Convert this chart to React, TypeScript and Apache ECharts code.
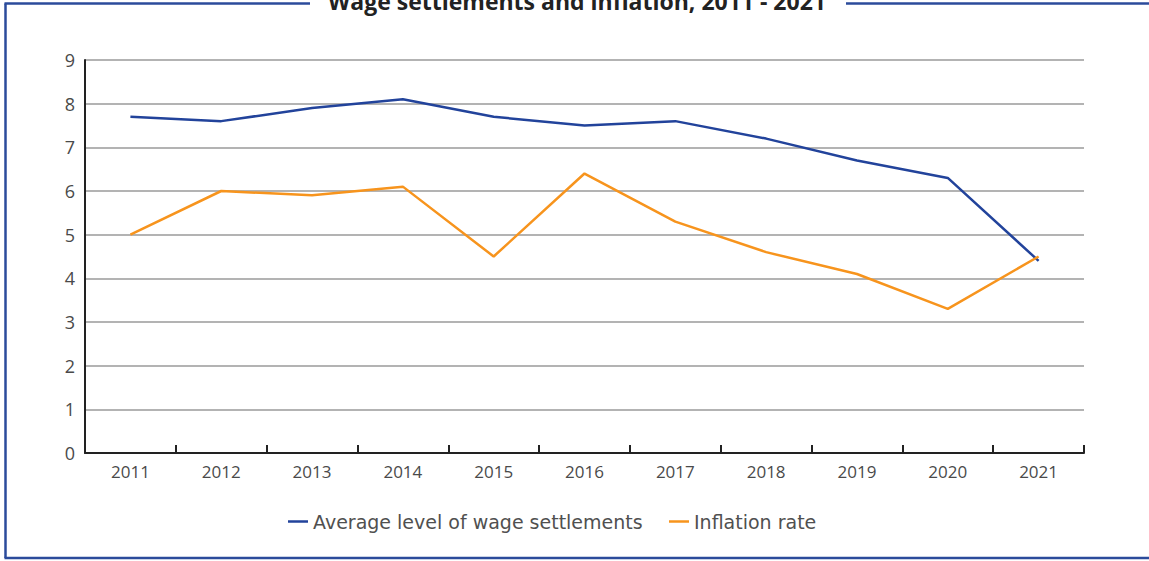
import React, { useEffect, useRef } from "react";
import * as echarts from "echarts";

const years = ["2011", "2012", "2013", "2014", "2015", "2016", "2017", "2018", "2019", "2020", "2021"];
const wageSettlements = [7.7, 7.6, 7.9, 8.1, 7.7, 7.5, 7.6, 7.2, 6.7, 6.3, 4.4];
const inflationRate = [5.0, 6.0, 5.9, 6.1, 4.5, 6.4, 5.3, 4.6, 4.1, 3.3, 4.5];
const seriesNames = ["Average level of wage settlements", "Inflation rate"];
const titleText = "Wage settlements and inflation, 2011 - 2021";

const BLUE = "#22439b";
const ORANGE = "#f7941d";
const FRAME = "#2b4b9b";
const AXIS_FONT = "'Open Sans', 'Noto Sans', sans-serif";
const LEGEND_FONT = "'DejaVu Sans', 'Noto Sans', sans-serif";
const TITLE_FONT = "'Open Sans', 'Noto Sans', sans-serif";

export default function App() {
  const ref = useRef<HTMLDivElement>(null);
  useEffect(() => {
    if (!ref.current) return;
    const chart = echarts.init(ref.current, undefined, { renderer: "svg" });
    chart.setOption({
      animation: false,
      backgroundColor: "#ffffff",
      grid: { left: 85, right: 65, top: 60, bottom: 108, containLabel: false },
      xAxis: {
        type: "category",
        data: years,
        boundaryGap: true,
        axisLine: { lineStyle: { color: "#222", width: 2 } },
        axisTick: { show: true, inside: true, length: 8, lineStyle: { color: "#222", width: 2 } },
        axisLabel: { color: "#4a4a4a", fontSize: 17, fontFamily: AXIS_FONT, margin: 10 },
        splitLine: { show: false },
      },
      yAxis: {
        type: "value",
        min: 0,
        max: 9,
        interval: 1,
        axisLine: { show: true, lineStyle: { color: "#222", width: 2 } },
        axisTick: { show: false },
        axisLabel: { color: "#4a4a4a", fontSize: 18, fontFamily: AXIS_FONT, margin: 10 },
        splitLine: { show: true, lineStyle: { color: "#9a9a9a", width: 1.5 } },
      },
      legend: [
        {
          data: [seriesNames[0]],
          left: 283,
          top: 507,
          icon: "rect",
          itemWidth: 20,
          itemHeight: 2.5,
          textStyle: { color: "#505050", fontSize: 19, fontFamily: LEGEND_FONT, padding: [0, 0, 0, 0] },
        },
        {
          data: [seriesNames[1]],
          left: 664,
          top: 507,
          icon: "rect",
          itemWidth: 20,
          itemHeight: 2.5,
          textStyle: { color: "#505050", fontSize: 19, fontFamily: LEGEND_FONT, padding: [0, 0, 0, 0] },
        },
      ],
      series: [
        {
          name: seriesNames[0],
          type: "line",
          data: wageSettlements,
          showSymbol: false,
          symbol: "none",
          lineStyle: { color: BLUE, width: 2.5 },
          itemStyle: { color: BLUE },
        },
        {
          name: seriesNames[1],
          type: "line",
          data: inflationRate,
          showSymbol: false,
          symbol: "none",
          lineStyle: { color: ORANGE, width: 2.5 },
          itemStyle: { color: ORANGE },
        },
      ],
      graphic: [
        { type: "line", shape: { x1: 5.5, y1: 3.5, x2: 5.5, y2: 558 }, style: { stroke: FRAME, lineWidth: 2.5 } },
        { type: "line", shape: { x1: 4.5, y1: 558, x2: 1149, y2: 558 }, style: { stroke: FRAME, lineWidth: 2.5 } },
        { type: "line", shape: { x1: 4.5, y1: 3.5, x2: 310, y2: 3.5 }, style: { stroke: FRAME, lineWidth: 2.5 } },
        { type: "line", shape: { x1: 846, y1: 3.5, x2: 1149, y2: 3.5 }, style: { stroke: FRAME, lineWidth: 2.5 } },
        {
          type: "text",
          x: 577,
          y: 12,
          style: {
            text: titleText,
            fill: "#222",
            font: `bold 23px ${TITLE_FONT}`,
            textAlign: "center",
            textVerticalAlign: "bottom",
          },
        },
      ],
    });
    return () => chart.dispose();
  }, []);
  return (
    <div
      ref={ref}
      style={{ position: "absolute", left: 0, top: 0, width: 1149, height: 561 }}
    />
  );
}
